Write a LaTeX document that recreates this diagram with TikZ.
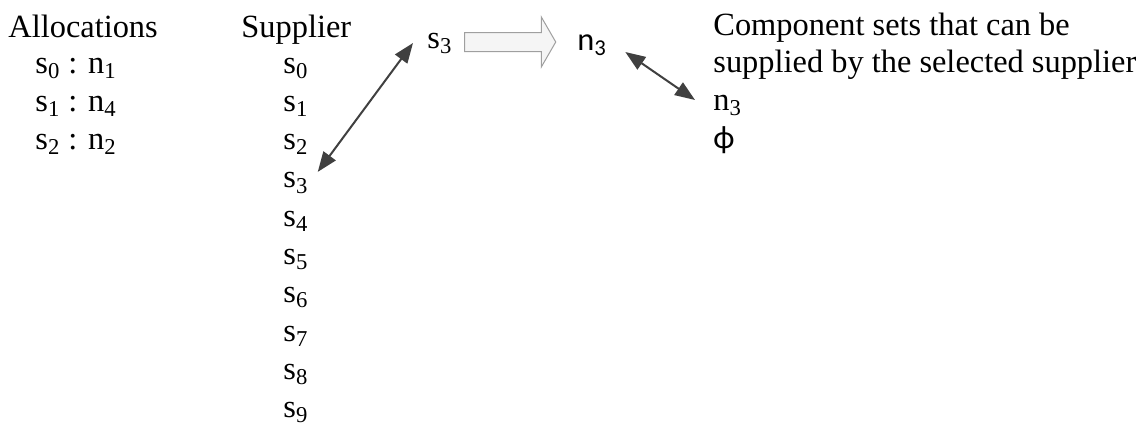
\documentclass[tikz,border=0pt]{standalone}
\usepackage{fontspec}
\setmainfont{Liberation Serif}
\newfontfamily\labelsans{Carlito}
\usepackage{tikz}
\usetikzlibrary{arrows.meta,positioning,calc,shapes.arrows}
\definecolor{Ink}{HTML}{404040}
\definecolor{Pale}{HTML}{F5F5F5}
\tikzset{
listtext/.style={inner sep=0pt, anchor=base west, font=\fontsize{16.2pt}{19pt}\selectfont},
settext/.style={inner sep=0pt, anchor=base west, font=\fontsize{16.2pt}{19pt}\selectfont\labelsans},
pairarrow/.style={{Triangle[length=10pt,width=7.5pt]}-{Triangle[length=10pt,width=7.5pt]}, line width=1pt, draw=Ink},
movearrow/.style={single arrow, draw=gray!75, fill=Pale, line width=0.5pt, inner xsep=0pt, inner ysep=4.5pt, minimum height=45.5pt, single arrow head extend=7.75pt, single arrow tip angle=120}
}
\begin{document}
\begin{tikzpicture}[x=0.5pt, y=-0.5pt]
  \useasboundingbox (0,0) rectangle (1145,428);
  % allocations so far
  \node[listtext] (alloc) at (8,37) {Allocations};
  \node[listtext] (alloc0) at (35,73) {s\textsubscript{0} : n\textsubscript{1}};
  \node[listtext] (alloc1) at (35,111.3) {s\textsubscript{1} : n\textsubscript{4}};
  \node[listtext] (alloc2) at (35,149.6) {s\textsubscript{2} : n\textsubscript{2}};
  % supplier list
  \node[listtext] (supplier) at (241,37) {Supplier};
  \foreach \k in {0,...,9}
    \node[listtext] (sup\k) at (283,73+38.3*\k) {s\textsubscript{\k}};
  % selected supplier and its set
  \node[listtext] (sel) at (427,48) {s\textsubscript{3}};
  \node[movearrow] (move) at (507.5,42) {};
  \node[settext] (midset) at (577,50) {n\textsubscript{3}};
  % component sets
  \node[listtext] (comp) at (713,35) {Component sets that can be};
  \node[listtext] (comp2) at (713,72) {supplied by the selected supplier};
  \node[listtext] (compn) at (713,110) {n\textsubscript{3}};
  \node[settext] (compphi) at (713,148) {ϕ};
  \draw[pairarrow] ($(sup3.base east)+(9,-16)$) -- ($(sel.base west)+(-14,-5)$);
  \draw[pairarrow] ($(midset.base east)+(18,2)$) -- ($(compn.base west)+(-18,-10)$);
\end{tikzpicture}
\end{document}
